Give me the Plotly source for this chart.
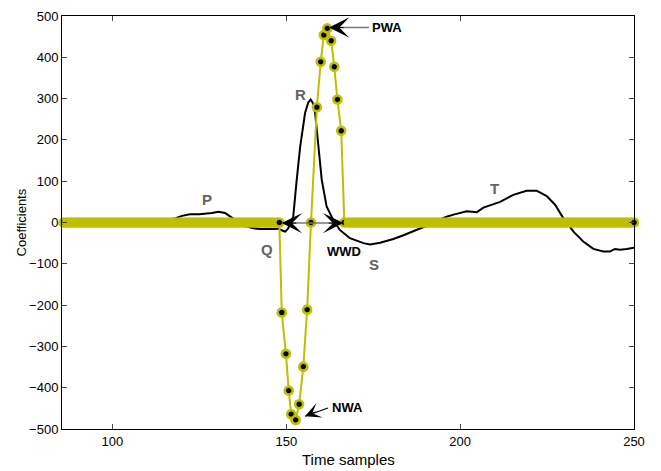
import plotly.graph_objects as go

# ---- ECG signal (black) ----
ecg_x = [86, 90, 95, 100, 105, 110, 115, 118, 120, 122.3, 125, 127.1, 128.6, 130.5,
         132.4, 133.8, 136, 138, 140.5, 142.5, 146.3, 147.7, 149, 149.7, 150.5, 151.2,
         152, 153, 154, 155.4, 156.3, 157, 157.6, 158.3, 159.2, 160.2, 161.6, 163.5,
         165.4, 168.3, 172.2, 174.1, 177, 180.8, 183.7, 187.5, 190.4, 193, 196.1, 198.1,
         201.9, 204.8, 206.7, 211.5, 215.3, 219.1, 222, 224.9, 227.3, 229.7, 232.6,
         235.4, 238.3, 241.2, 243.1, 244.5, 246, 247.9, 250]
ecg_y = [2, 0, 3, 1, 4, 2, 6, 10, 16, 20, 20, 21, 23, 26,
         23, 15, 3, -8, -14, -16, -16, -15, -20, -22, -15, -3,
         14, 103, 184, 265, 290, 298, 290, 265, 184, 103, 39, 6,
         -18, -38, -50, -53, -49, -40, -31, -19, -8, 3, 14, 19,
         27, 25, 36, 50, 67, 77, 77, 64, 43, 10, -22,
         -46, -64, -70, -70, -64, -66, -64, -61]

# ---- wavelet coefficients (yellow) ----
pre_x = list(range(86, 149))
pre_y = [0] * len(pre_x)
neg_x = [148.7, 149.9, 150.7, 151.4, 152.7, 153.7, 154.9, 156.0]
neg_y = [-218, -318, -407, -464, -478, -440, -349, -211]
mid_x = [157.1]
mid_y = [0]
pos_x = [158.8, 159.9, 160.8, 161.8, 162.9, 163.8, 164.7, 165.8]
pos_y = [279, 389, 454, 470, 440, 377, 298, 222]
post_x = [166.7] + list(range(168, 251))
post_y = [0] * len(post_x)

coef_x = pre_x + neg_x + mid_x + pos_x + post_x
coef_y = pre_y + neg_y + mid_y + pos_y + post_y

x_ticks = [100, 150, 200, 250]
y_ticks = [-500, -400, -300, -200, -100, 0, 100, 200, 300, 400, 500]

YEL = "#bfbf00"
GRAY = "#636363"

# densely packed zero markers merge into a solid band: only the centres of the
# band ends and of the isolated zero points stay visible
n = len(coef_y)
show_centre = set([0, n - 1, len(pre_x) - 1, len(pre_x) + len(neg_x),
                   len(pre_x) + len(neg_x) + 1 + len(pos_x)])
m_color = ["black" if (coef_y[i] != 0 or i in show_centre) else YEL for i in range(n)]

fig = go.Figure()
fig.add_trace(go.Scatter(x=ecg_x, y=ecg_y, mode="lines",
                         line=dict(color="black", width=2), showlegend=False))
fig.add_trace(go.Scatter(x=coef_x, y=coef_y, mode="lines+markers",
                         line=dict(color=YEL, width=2),
                         marker=dict(symbol="circle", size=8, color=m_color,
                                     line=dict(color=YEL, width=2.6)),
                         cliponaxis=False, showlegend=False))

annots = []
# wave labels
for txt, xx, yy in [("P", 127.2, 55), ("R", 154.0, 310), ("Q", 144.5, -66),
                    ("S", 175.3, -102), ("T", 210.0, 83)]:
    annots.append(dict(x=xx, y=yy, text="<b>" + txt + "</b>", showarrow=False,
                       font=dict(family="Arial", size=15, color=GRAY)))
# texts
for txt, xx, yy in [("PWA", 178.9, 472), ("NWA", 167.6, -447), ("WWD", 166.5, -70)]:
    annots.append(dict(x=xx, y=yy, text="<b>" + txt + "</b>", showarrow=False,
                       font=dict(family="Arial", size=13, color="black")))

# PWA arrow: gray line + black head
annots.append(dict(x=162.3, y=472, ax=174.2, ay=472, axref="x", ayref="y", text="",
                   showarrow=True, arrowhead=0, arrowwidth=1.6, arrowcolor="#777777"))
annots.append(dict(x=162.3, y=472, ax=16, ay=0, text="", showarrow=True,
                   arrowhead=3, arrowsize=3.4, arrowwidth=1, arrowcolor="black"))
# NWA arrow
annots.append(dict(x=155.4, y=-469, ax=162.4, ay=-448, axref="x", ayref="y", text="",
                   showarrow=True, arrowhead=0, arrowwidth=1.2, arrowcolor="black"))
annots.append(dict(x=155.4, y=-469, ax=12, ay=-5, text="", showarrow=True,
                   arrowhead=3, arrowsize=2.6, arrowwidth=1, arrowcolor="black"))
# WWD double arrow
annots.append(dict(x=148.7, y=-1.5, ax=166.4, ay=-1.5, axref="x", ayref="y", text="",
                   showarrow=True, arrowhead=0, arrowwidth=1.5, arrowcolor="#777777"))
annots.append(dict(x=148.7, y=-1.5, ax=16, ay=0, text="", showarrow=True,
                   arrowhead=3, arrowsize=3.4, arrowwidth=1, arrowcolor="black"))
annots.append(dict(x=166.4, y=-1.5, ax=-16, ay=0, text="", showarrow=True,
                   arrowhead=3, arrowsize=3.4, arrowwidth=1, arrowcolor="black"))
# axis titles
annots.append(dict(x=-0.07, y=0.5, xref="paper", yref="paper", text="Coefficients",
                   textangle=-90, showarrow=False, xanchor="center", yanchor="middle",
                   font=dict(family="Arial", size=13, color="black")))
annots.append(dict(x=0.5, y=-0.075, xref="paper", yref="paper", text="Time samples",
                   showarrow=False, xanchor="center", yanchor="middle",
                   font=dict(family="Arial", size=15, color="black")))

fig.update_layout(
    width=661, height=471,
    margin=dict(l=62, r=27, t=16, b=42),
    paper_bgcolor="white", plot_bgcolor="white",
    font=dict(family="Arial", size=13, color="black"),
    annotations=annots,
    xaxis=dict(range=[85.5, 250], tickvals=x_ticks, ticks="inside", ticklen=5,
               showline=True, linecolor="black", linewidth=1, mirror="ticks",
               showgrid=False, zeroline=False, ticklabelstandoff=0, automargin=False,
               tickfont=dict(size=13)),
    yaxis=dict(range=[-500, 500], tickvals=y_ticks, ticks="inside", ticklen=5,
               showline=True, linecolor="black", linewidth=1, mirror="ticks",
               showgrid=False, zeroline=False, automargin=False,
               tickfont=dict(size=13)),
)

fig.write_html("out.html")
